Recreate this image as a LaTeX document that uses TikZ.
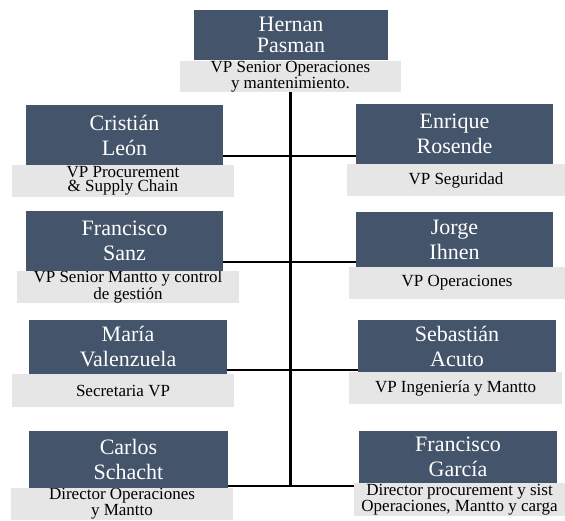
\documentclass[tikz,border=0pt]{standalone}
\usepackage{fontspec}
\setmainfont{Liberation Serif}
\definecolor{namefill}{HTML}{44546A}
\definecolor{rolefill}{HTML}{E7E6E6}
\begin{document}
\begin{tikzpicture}[x=1pt,y=-1pt,
  namebox/.style={fill=namefill,text=white,inner sep=0pt,align=center,
    font=\fontsize{22}{25}\selectfont},
  rolebox/.style={fill=rolefill,text=black,inner sep=0pt,align=center,
    font=\fontsize{17}{13.5}\selectfont},
  link/.style={line width=2.6pt}]
\useasboundingbox (0,0) rectangle (565,520);

% head of the unit
\node[rolebox,minimum width=221pt,minimum height=31pt] (hernanrole) at (290.5,76.5) {VP Senior Operaciones\\y mantenimiento.};
\node[namebox,minimum width=194pt,minimum height=50pt,font=\fontsize{22}{21}\selectfont] (hernan) at (291,35) {Hernan\\Pasman};

% row 1
\node[rolebox,minimum width=222pt,minimum height=32pt] (cristianrole) at (123,181) {VP Procurement\\\& Supply Chain};
\node[namebox,minimum width=197pt,minimum height=60pt] (cristian) at (124.5,135) {Cristián\\León};
\node[rolebox,minimum width=218pt,minimum height=32pt] (enriquerole) at (456,180) {VP Seguridad};
\node[namebox,minimum width=197pt,minimum height=60pt] (enrique) at (454.5,134) {Enrique\\Rosende};

% row 2
\node[rolebox,minimum width=222pt,minimum height=32pt] (sanzrole) at (128,287) {VP Senior Mantto y control\\de gestión};
\node[namebox,minimum width=197pt,minimum height=60pt] (sanz) at (124.5,241) {Francisco\\Sanz};
\node[rolebox,minimum width=216pt,minimum height=32pt] (jorgerole) at (457,283) {VP Operaciones};
\node[namebox,minimum width=197pt,minimum height=55pt] (jorge) at (454.5,239.5) {Jorge\\Ihnen};

% row 3
\node[rolebox,minimum width=222pt,minimum height=33pt] (mariarole) at (123,390.5) {Secretaria VP};
\node[namebox,minimum width=198pt,minimum height=54pt] (maria) at (128,347) {María\\Valenzuela};
\node[rolebox,minimum width=213pt,minimum height=32pt] (sebastianrole) at (455.5,388) {VP Ingeniería y Mantto};
\node[namebox,minimum width=198pt,minimum height=52pt] (sebastian) at (457,346) {Sebastián\\Acuto};

% row 4
\node[rolebox,minimum width=222pt,minimum height=32pt] (carlosrole) at (122,504) {Director Operaciones\\y Mantto};
\node[namebox,minimum width=199pt,minimum height=57pt] (carlos) at (128.5,459.5) {Carlos\\Schacht};
\node[rolebox,minimum width=211pt,minimum height=33pt] (garciarole) at (459.5,499.5) {Director procurement y sist\\Operaciones, Mantto y carga};
\node[namebox,minimum width=198pt,minimum height=52pt] (garcia) at (458,457) {Francisco\\García};

% junctions on the trunk
\coordinate (j1) at (290.5,156);
\coordinate (j2) at (290.5,262);
\coordinate (j3) at (290.5,370);
\coordinate (j4) at (290.5,486);

% connectors
\draw[link] (hernanrole.south) -- (j4);
\draw[link] (j1 -| cristian.east) -- (j1 -| enrique.west);
\draw[link] (j2 -| sanz.east) -- (j2 -| jorge.west);
\draw[link] (j3 -| maria.east) -- (j3 -| sebastian.west);
\draw[link] (j4 -| carlos.east) -- (j4 -| garciarole.west);
\end{tikzpicture}
\end{document}
